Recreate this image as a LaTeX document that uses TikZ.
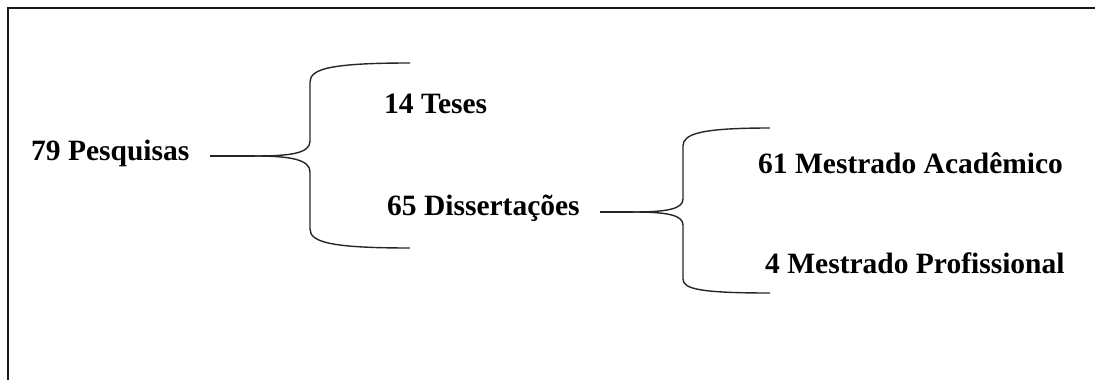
\documentclass[tikz,border=0pt]{standalone}
\usepackage{fontspec}
\setmainfont{Liberation Serif}
\begin{document}
\begin{tikzpicture}[x=1pt,y=-1pt,
  lbl/.style={anchor=base west,inner sep=0pt,font=\fontsize{29.5}{34}\selectfont\bfseries},
  brace/.style={draw=black!85,line width=1.4pt,line join=round},
  frame/.style={draw=black!90,line width=2pt}]
\useasboundingbox (0,0) rectangle (1095,380);
\draw[frame] (8,380) -- (8,8) -- (1096,8);
% labels
\node[lbl] (p) at (31,160) {79 Pesquisas};
\node[lbl] (t) at (384,113) {14 Teses};
\node[lbl] (d) at (387,215) {65 Dissertações};
\node[lbl] (ma) at (758,173) {61 Mestrado Acadêmico};
\node[lbl] (mp) at (765,273) {4 Mestrado Profissional};
% brace 1
\coordinate (b1s) at (210,156);
\coordinate (b1t) at (255,156);
\coordinate (b1u) at (410,63);
\coordinate (b1l) at (410,248);
\draw[brace,line width=2.6pt] (b1s) -- (b1t);
\draw[brace] (b1t) .. controls (292,156) and (310,153) .. (310,141) -- (310,82)
  .. controls (310,69) and (330,63) .. (b1u);
\draw[brace] (b1t) .. controls (292,156) and (310,160) .. (310,172) -- (310,229)
  .. controls (310,242) and (330,248) .. (b1l);
% brace 2
\coordinate (b2s) at (600,212);
\coordinate (b2t) at (633,212);
\coordinate (b2u) at (770,128);
\coordinate (b2l) at (770,293);
\draw[brace,line width=1.8pt] (b2s) -- (b2t);
\draw[brace] (b2t) .. controls (667,212) and (683,209) .. (683,199) -- (683,146)
  .. controls (683,134) and (700,128) .. (b2u);
\draw[brace] (b2t) .. controls (667,212) and (683,215) .. (683,225) -- (683,279)
  .. controls (683,289) and (700,293) .. (b2l);
\end{tikzpicture}
\end{document}
